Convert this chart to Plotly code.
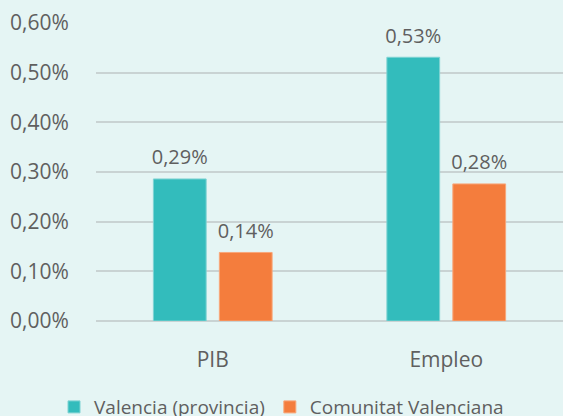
import plotly.graph_objects as go

categories = ["PIB", "Empleo"]
valencia = [0.00286, 0.00531]
comunitat = [0.00138, 0.00276]
valencia_labels = ["0,29%", "0,53%"]
comunitat_labels = ["0,14%", "0,28%"]

font_family = "Open Sans, Noto Sans, sans-serif"
gray = "#5F5F5F"

fig = go.Figure()
for name, vals, color, edge, grp in [
    ("Valencia (provincia)", valencia, "#33BCBC", "#7FD3D3", "v"),
    ("Comunitat Valenciana", comunitat, "#F47D3D", "#F8A77A", "c"),
]:
    fig.add_trace(go.Bar(
        x=categories, y=vals, name=name, offsetgroup=grp,
        marker=dict(color=color, line=dict(color=edge, width=1)),
    ))
for vals, labels, grp in [
    (valencia, valencia_labels, "v"),
    (comunitat, comunitat_labels, "c"),
]:
    fig.add_trace(go.Scatter(
        x=categories, y=vals, mode="markers+text", text=labels,
        textposition="top center", offsetgroup=grp, showlegend=False,
        marker=dict(size=14, color="rgba(0,0,0,0)"), hoverinfo="skip",
        textfont=dict(size=20, color=gray, family=font_family), cliponaxis=False,
    ))

fig.update_layout(
    width=563, height=416,
    margin=dict(l=96, r=0, t=23, b=95, autoexpand=False),
    paper_bgcolor="#E5F5F4", plot_bgcolor="#E5F5F4",
    separators=",.",
    barmode="group", bargap=0.435, bargroupgap=0.2,
    scattermode="group", scattergap=0.435,
    font=dict(family=font_family, color=gray, size=20),
    showlegend=True,
    legend=dict(orientation="h", xref="container", yref="paper",
                x=0.5, xanchor="center", y=-0.225, yanchor="top",
                font=dict(size=19, color=gray), itemwidth=30, traceorder="normal",
                bgcolor="rgba(0,0,0,0)"),
    yaxis=dict(range=[0, 0.006], dtick=0.001, tickformat=".2%",
               showgrid=True, gridcolor="#C9D3D3", gridwidth=1.5,
               zeroline=True, zerolinecolor="#C9D3D3", zerolinewidth=1.5,
               tickfont=dict(size=21, color=gray), ticks="outside", ticklen=22,
               tickcolor="rgba(0,0,0,0)", showline=False, automargin=False),
    xaxis=dict(tickfont=dict(size=21, color=gray), showline=False,
               ticks="outside", ticklen=20, tickcolor="rgba(0,0,0,0)", automargin=False),
)
fig.write_html("out.html", config={"displayModeBar": False},
               post_script="document.body.style.margin='0';document.body.style.overflow='hidden';")
